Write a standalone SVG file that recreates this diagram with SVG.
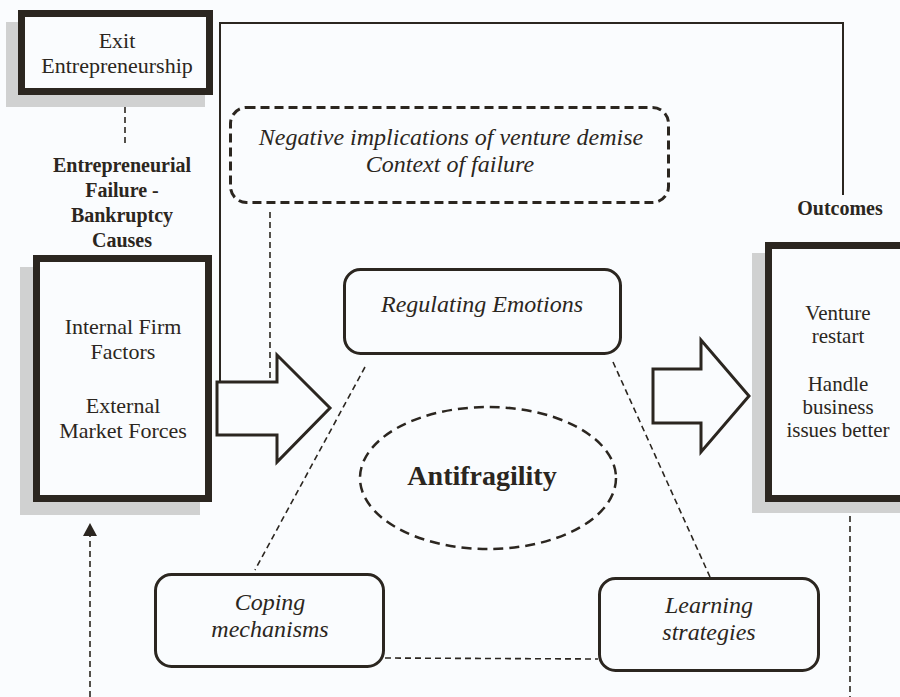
<svg xmlns="http://www.w3.org/2000/svg" width="900" height="697" viewBox="0 0 900 697">
  <defs>
    <style>
      .bg { fill: #fafcfe; }
      .shadow { fill: #d0d1d1; }
      .thick { fill: #fafcfe; stroke: #2b2620; stroke-width: 7; }
      .round { fill: #fafcfe; stroke: #2b2620; stroke-width: 3; }
      .dashbox { fill: #fafcfe; stroke: #2b2620; stroke-width: 3; stroke-dasharray: 9 5; }
      .big { fill: #fafcfe; stroke: #2b2620; stroke-width: 3; stroke-linejoin: miter; }
      .solid { fill: none; stroke: #2b2620; stroke-width: 2; }
      .dash { fill: none; stroke: #2b2620; stroke-width: 1.6; stroke-dasharray: 6 4; }
      .ell { fill: none; stroke: #2b2620; stroke-width: 2.5; stroke-dasharray: 10 6; }
      text { fill: #2b2620; font-family: "Liberation Serif", "Times New Roman", serif; text-anchor: middle; }
      .reg { font-size: 22px; }
      .reg21 { font-size: 21px; }
      .ital { font-size: 24px; font-style: italic; }
      .bold { font-size: 20px; font-weight: bold; }
      .title { font-size: 28px; font-weight: bold; }
    </style>
  </defs>

  <rect class="bg" x="0" y="0" width="900" height="697"/>

  <g id="connectors">
    <polyline class="solid" points="220,382 220,23 843,23 843,195"/>
    <line class="dash" x1="125" y1="107" x2="125" y2="145"/>
    <line class="dash" x1="270" y1="212" x2="270" y2="379"/>
    <line class="dash" x1="365" y1="367" x2="255" y2="570"/>
    <line class="dash" x1="613" y1="362" x2="710" y2="577"/>
    <line class="dash" x1="385" y1="658" x2="598" y2="659"/>
    <line class="dash" x1="90" y1="697" x2="90" y2="535"/>
    <polygon points="90,523 83,536 97,536" fill="#2b2620"/>
    <line class="dash" x1="850" y1="516" x2="850" y2="697"/>
  </g>

  <g id="exit">
    <rect class="shadow" x="6" y="22" width="199" height="85"/>
    <rect class="thick" x="21.5" y="13.5" width="188" height="78"/>
    <text class="reg" x="117" y="48">Exit</text>
    <text class="reg" x="117" y="73">Entrepreneurship</text>
  </g>

  <g id="causes-label">
    <text class="bold" x="122" y="172">Entrepreneurial</text>
    <text class="bold" x="122" y="197">Failure -</text>
    <text class="bold" x="122" y="222">Bankruptcy</text>
    <text class="bold" x="122" y="247">Causes</text>
  </g>

  <g id="causes">
    <rect class="shadow" x="20" y="267" width="180" height="248"/>
    <rect class="thick" x="36.5" y="258.5" width="172" height="240"/>
    <text class="reg" x="123" y="334">Internal Firm</text>
    <text class="reg" x="123" y="359">Factors</text>
    <text class="reg" x="123" y="413">External</text>
    <text class="reg" x="123" y="438">Market Forces</text>
  </g>

  <g id="arrow-left">
    <polygon class="big" points="217,382 277,382 277,355 330,408 277,462 277,435 217,435"/>
  </g>

  <g id="context">
    <rect class="dashbox" x="230.5" y="107.5" width="438" height="95" rx="16" ry="16"/>
    <text class="ital" x="451" y="145">Negative implications of venture demise</text>
    <text class="ital" x="450" y="172">Context of failure</text>
  </g>

  <g id="regulating">
    <rect class="round" x="344.5" y="269.5" width="276" height="84" rx="16" ry="16"/>
    <text class="ital" x="482" y="312">Regulating Emotions</text>
  </g>

  <g id="antifragility">
    <ellipse class="ell" cx="488" cy="478" rx="128" ry="71"/>
    <text class="title" x="482" y="485">Antifragility</text>
  </g>

  <g id="coping">
    <rect class="round" x="155.5" y="574.5" width="228" height="92" rx="16" ry="16"/>
    <text class="ital" x="270" y="610">Coping</text>
    <text class="ital" x="270" y="637">mechanisms</text>
  </g>

  <g id="learning">
    <rect class="round" x="599.5" y="578.5" width="219" height="92" rx="16" ry="16"/>
    <text class="ital" x="709" y="613">Learning</text>
    <text class="ital" x="709" y="640">strategies</text>
  </g>

  <g id="arrow-right">
    <polygon class="big" points="653,369 701,369 701,340 749,396 701,452 701,423 653,423"/>
  </g>

  <g id="outcomes-label">
    <text class="bold" x="840" y="215">Outcomes</text>
  </g>

  <g id="outcomes">
    <rect class="shadow" x="752" y="253" width="160" height="260"/>
    <rect class="thick" x="768.5" y="245.5" width="150" height="253"/>
    <text class="reg21" x="838" y="320">Venture</text>
    <text class="reg21" x="838" y="343">restart</text>
    <text class="reg21" x="838" y="391">Handle</text>
    <text class="reg21" x="838" y="414">business</text>
    <text class="reg21" x="838" y="437">issues better</text>
  </g>
</svg>
